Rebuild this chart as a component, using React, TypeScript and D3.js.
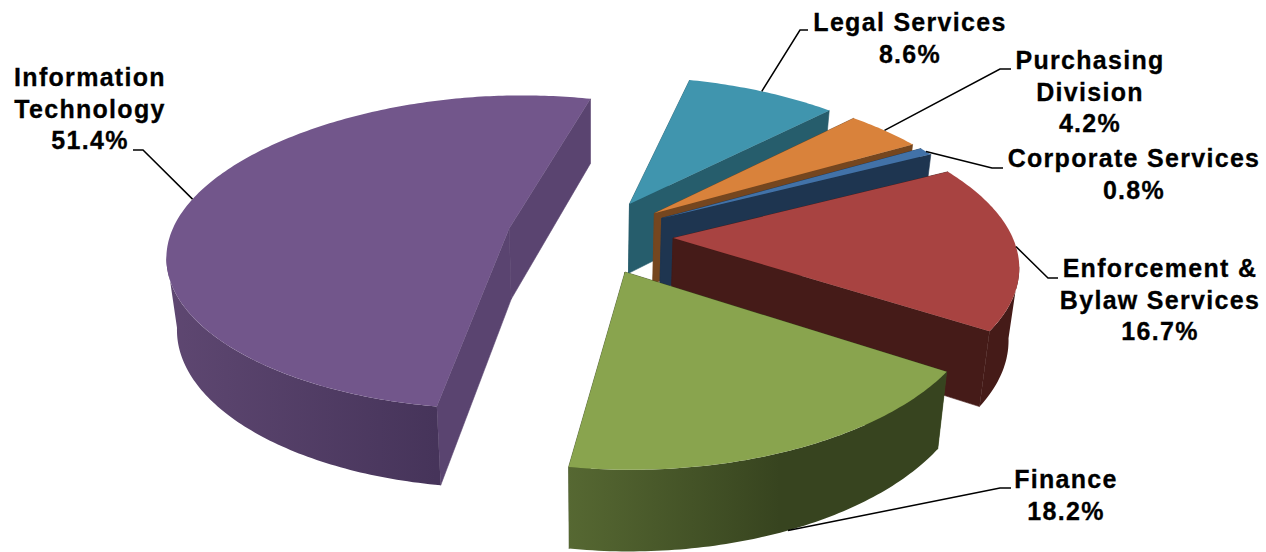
import React from "react";
import * as d3 from "d3";

// Share of the total per division, clockwise from the back of the pie.
const categories = [
  "Legal Services",
  "Purchasing Division",
  "Corporate Services",
  "Enforcement & Bylaw Services",
  "Finance",
  "Information Technology",
];
const shares = [8.6, 4.2, 0.8, 16.7, 18.2, 51.4];
const valueLabels = ["8.6%", "4.2%", "0.8%", "16.7%", "18.2%", "51.4%"];
const labelLines = [
  ["Legal Services"],
  ["Purchasing", "Division"],
  ["Corporate Services"],
  ["Enforcement &", "Bylaw Services"],
  ["Finance"],
  ["Information", "Technology"],
];

// Face colours, in category order.
const topColors = ["#4095ae", "#d9823b", "#4272a8", "#a84341", "#89a44e", "#72568b"];
const wallColors = ["#265d6c", "#75461f", "#1e3550", "#451b18", "#3a4a1f", "#5a4470"];
const outerFrom = ["#265d6c", "#75461f", "#1e3550", "#451b18", "#566832", "#5e4771"];
const outerTo = ["#265d6c", "#75461f", "#1e3550", "#451b18", "#37441f", "#46345a"];

// Label placement: text centre, first baseline, leader elbow and leader end.
const labelCenters = [910, 1090, 1134, 1160, 1066, 90];
const labelBaselines = [31, 69, 167, 277, 488, 86];
const elbows: [number, number][][] = [
  [[800, 30], [808, 30]],
  [[1000, 69], [1011, 69]],
  [[992, 168], [1003, 168]],
  [[1048, 278], [1058, 278]],
  [[1000, 488], [1011, 488]],
  [[143, 150], [133, 150]],
];

const WIDTH = 1266;
const HEIGHT = 552;
const CX = 590;
const CY = 236;
const RX = 339;
const RY = 155.5;
const EXPLODE = 0.245;
const PERSPECTIVE_X = 0.16;
const PERSPECTIVE_Y = 0.152;
const LINE_HEIGHT = 31.5;
const START = (14 * Math.PI) / 180;
const FRONT_FROM = (100 * Math.PI) / 180;
const FRONT_TO = (260 * Math.PI) / 180;

type Pt = [number, number];

// Ground-plane coordinates (unit pie radius, +y towards the back) to the top surface.
const projectTop = (gx: number, gy: number): Pt => [
  CX + RX * gx * (1 - PERSPECTIVE_X * gy),
  CY - (RY * gy) / (1 + PERSPECTIVE_Y * gy),
];

// The lower rim sits below the top surface, slightly narrower and deeper towards the front.
const dropToBase = ([x, y]: Pt): Pt => [
  CX + (x - CX) * 0.975,
  y + 71 + 0.046 * (y - 238),
];

const pieLayout = d3
  .pie<number>()
  .sort(null)
  .startAngle(START)
  .endAngle(START + 2 * Math.PI);

const line = d3.line<Pt>();

function buildSlice(start: number, end: number) {
  const mid = (start + end) / 2;
  const ox = EXPLODE * Math.sin(mid);
  const oy = EXPLODE * Math.cos(mid);
  const at = (a: number): Pt => projectTop(ox + Math.sin(a), oy + Math.cos(a));
  const apex = projectTop(ox, oy);
  const sweep = (a0: number, a1: number) => {
    const n = Math.max(2, Math.ceil(Math.abs(a1 - a0) / 0.015));
    return d3.range(n + 1).map((i) => a0 + ((a1 - a0) * i) / n);
  };
  const rim = sweep(start, end).map(at);
  const top = line([apex, ...rim])! + "Z";
  const wall = (a: number) => {
    const p = at(a);
    return line([apex, p, dropToBase(p), dropToBase(apex)])! + "Z";
  };

  // Only the stretch of the rim turned towards the viewer gets an outer wall.
  const lo = Math.max(start, FRONT_FROM);
  const hi = Math.min(end, FRONT_TO);
  let outer: string | null = null;
  if (hi > lo) {
    const front = sweep(lo, hi).map(at);
    outer = line([...front, ...front.slice().reverse().map(dropToBase)])! + "Z";
  }
  return {
    top,
    walls: [wall(start), wall(end)],
    outer,
    rimMid: at(mid),
  };
}

const arcs = pieLayout(shares);
const slices = arcs.map((a) => buildSlice(a.startAngle, a.endAngle));
// The large slice is painted first; the rest run from back to front.
const paintOrder = [5, 0, 1, 2, 3, 4];

const FONT: React.CSSProperties = {
  fontFamily: "'Liberation Sans', Arial, sans-serif",
  fontWeight: 700,
  fontSize: 25,
  letterSpacing: 1.3,
};

function Label({ index }: { index: number }) {
  const rows = [...labelLines[index], valueLabels[index]];
  return (
    <g>
      {rows.map((row, r) => (
        <text
          key={row}
          x={labelCenters[index]}
          y={labelBaselines[index] + r * LINE_HEIGHT}
          textAnchor="middle"
          fill="#000"
          stroke="#000"
          strokeWidth={0.3}
          style={FONT}
        >
          {row}
        </text>
      ))}
    </g>
  );
}

export default function App() {
  return (
    <svg
      width={WIDTH}
      height={HEIGHT}
      viewBox={`0 0 ${WIDTH} ${HEIGHT}`}
      style={{ position: "fixed", left: 0, top: 0, background: "#fff" }}
    >
      <defs>
        {categories.map((name, i) => (
          <linearGradient
            key={name}
            id={`outer-${i}`}
            gradientUnits="userSpaceOnUse"
            x1={i === 4 ? 568 : 170}
            x2={i === 4 ? 780 : 436}
            y1={0}
            y2={0}
          >
            <stop offset="0" stopColor={outerFrom[i]} />
            <stop offset="1" stopColor={outerTo[i]} />
          </linearGradient>
        ))}
      </defs>

      {paintOrder.map((i) => {
        const s = slices[i];
        return (
          <g key={categories[i]}>
            {s.walls.map((d, w) => (
              <path key={w} d={d} fill={wallColors[i]} stroke={wallColors[i]} strokeWidth={0.6} />
            ))}
            {s.outer && <path d={s.outer} fill={`url(#outer-${i})`} />}
            <path d={s.top} fill={topColors[i]} />
          </g>
        );
      })}

      {categories.map((name, i) => {
        const start = i === 4 ? dropToBase(slices[i].rimMid) : slices[i].rimMid;
        return (
          <path
            key={name}
            d={line([start, ...elbows[i]])!}
            fill="none"
            stroke="#000"
            strokeWidth={1.5}
          />
        );
      })}

      {categories.map((name, i) => (
        <Label key={name} index={i} />
      ))}
    </svg>
  );
}
